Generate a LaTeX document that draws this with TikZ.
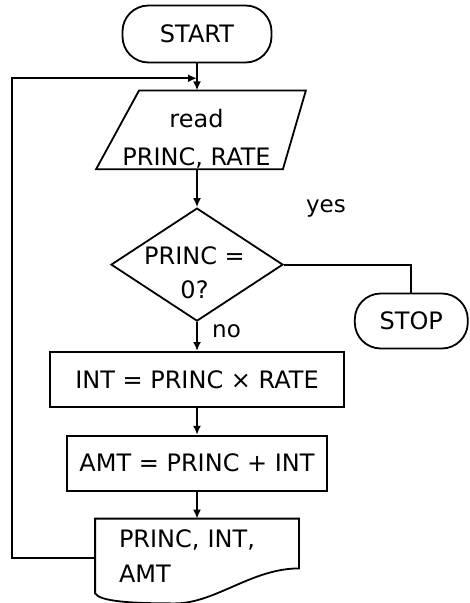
\documentclass[tikz,border=0pt]{standalone}
\usepackage{fontspec}
\setmainfont{DejaVu Sans}
\usetikzlibrary{shapes.geometric, arrows.meta, positioning, calc}

\begin{document}
\begin{tikzpicture}[x=1pt, y=1pt, node distance=28pt]
    \tikzstyle{base}=[draw=black, line width=1.8pt, align=center,
                      font=\fontsize{24}{29}\selectfont]
    \tikzstyle{term}=[base, rectangle, rounded corners=26pt, minimum height=57pt]
    \tikzstyle{proc}=[base, rectangle, minimum height=55pt]
    \tikzstyle{iobox}=[rectangle, line width=1.8pt, align=center,
                       font=\fontsize{24}{29}\selectfont,
                       minimum width=208pt, minimum height=77pt]
    \tikzstyle{decision}=[base, diamond, shape aspect=1.52, minimum width=172pt,
                          minimum height=113pt, inner sep=-4pt]
    \tikzstyle{docbox}=[rectangle, line width=1.8pt, font=\fontsize{24}{29}\selectfont,
                        minimum width=202pt, minimum height=73pt, text width=156pt,
                        align=left, inner xsep=23pt, inner ysep=0pt]
    \tikzstyle{lbl}=[font=\fontsize{23}{28}\selectfont, inner sep=0pt]
    \tikzstyle{arr}=[-{Latex[length=9pt, width=8pt]}, line width=1.8pt]
    \tikzstyle{line}=[line width=1.8pt]

    \useasboundingbox (0,0) rectangle (470,-603);

    \node[term, minimum width=149pt] (sta) at (197,-34) {START};
    \node[iobox, below=27pt of sta, xshift=4pt] (rd)
        {\raisebox{-36pt}[0pt][0pt]{\begin{tabular}[b]{@{}c@{\hspace{9pt}}}
         read\\[9pt]PRINC, RATE\end{tabular}}};
    \node[decision, below=38pt of rd, xshift=-4pt] (dec)
        {\raisebox{-34pt}[0pt][0pt]{\begin{tabular}[b]{@{}c@{\hspace{5pt}}}
         PRINC =\\[5pt]0?\end{tabular}}};
    \node[term, minimum width=113pt, minimum height=55pt,
          below right=28pt and 70pt of dec.east] (stp) {STOP};
    \node[proc, minimum width=294pt, below=29pt of dec] (int) {INT = PRINC × RATE};
    \node[proc, minimum width=260pt, below=27pt of int] (amt) {AMT = PRINC + INT};
    \node[docbox, below=27pt of amt] (out) {PRINC, INT,\\[6pt]AMT};

    \node[lbl, above right=47pt and 22pt of dec.east] (yes) {yes};
    \node[lbl, below right=2pt and 15pt of dec.south] (no) {no};

    % slanted input box
    \draw[line] ([xshift=43pt]rd.north west) -- (rd.north east)
        -- ([xshift=-23pt]rd.south east) -- (rd.south west) -- cycle;

    % document outline with the wavy bottom
    \draw[line] (out.north west) -- (out.north east) -- ([yshift=25pt]out.south east)
        .. controls ([xshift=-47pt, yshift=25pt]out.south east)
                and ([xshift=120pt, yshift=-10pt]out.south west)
        .. ([xshift=80pt, yshift=-10pt]out.south west)
        .. controls ([xshift=35pt, yshift=-10pt]out.south west)
                and ([xshift=5pt, yshift=-8pt]out.south west)
        .. (out.south west) -- cycle;

    \coordinate (join) at ($(sta.south)!0.55!(sta.south |- rd.north)$);
    \coordinate (lft) at (12,-558);

    \draw[arr] (sta) -- (sta |- rd.north);
    \draw[arr] (dec |- rd.south) -- (dec);
    \draw[line] (dec.east) -| (stp.north);
    \draw[arr] (dec) -- (int);
    \draw[arr] (int) -- (amt);
    \draw[arr] (amt) -- (out);
    \draw[arr] (out.west |- lft) -- (lft) |- (join);
\end{tikzpicture}
\end{document}
